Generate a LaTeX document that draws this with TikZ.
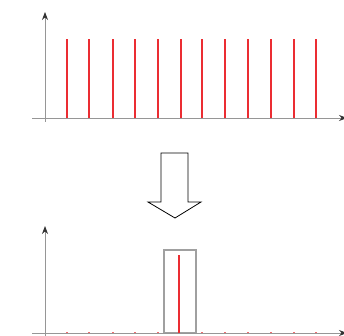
\documentclass[tikz,border=0pt]{standalone}
\usetikzlibrary{arrows.meta, calc}
\definecolor{axisgray}{RGB}{150,150,150}
\definecolor{spike}{RGB}{235,45,50}
\tikzstyle{axis} = [axisgray, line width=0.8pt, -{Stealth[length=8pt, width=6pt, black!80]}]
\tikzstyle{stub} = [axisgray, line width=0.6pt]
\tikzstyle{spikeline} = [spike, line width=2.2pt]
\tikzstyle{spikedot} = [spike!70, line width=1.5pt]
\tikzstyle{window} = [axisgray!90, line width=1.1pt]
\tikzstyle{bigarrow} = [black, line width=0.8pt, fill=white]

\begin{document}
\begin{tikzpicture}[x=1pt, y=-1pt]
\useasboundingbox (0,0) rectangle (344,335);

% Top axes
\coordinate (o1) at (45,118);
\coordinate (y1) at (45,12);
\coordinate (x1) at (347,118);
\draw [stub] (32,118) -- (o1) -- (45,122);
\draw [axis] (o1) -- (y1);
\draw [axis] (o1) -- (x1);

% Comb of spikes
\foreach \px in {67,89,113,135,158,181,202,225,248,271,294,316}
  \draw [spikeline] (\px,118) -- (\px,39);

% Arrow down
\draw [bigarrow] (161,153) -- (188,153) -- (188,202) -- (201,202) -- (175,218)
  -- (148,202) -- (161,202) -- cycle;

% Bottom axes
\coordinate (o2) at (45,333);
\coordinate (y2) at (45,226);
\coordinate (x2) at (347,333);
\draw [stub] (32,333) -- (o2) -- (45,337);

% Remaining dots
\foreach \px in {67,89,113,135,158,202,225,248,271,294,316}
  \draw [spikedot] (\px-1,333) -- (\px+1,333);

% Window around the kept spike
\draw [window] (164,333) rectangle (196,250);
\draw [spikeline] (179,333) -- (179,255);
\draw [axis] (o2) -- (y2);
\draw [axis] (o2) -- (x2);

\end{tikzpicture}
\end{document}
